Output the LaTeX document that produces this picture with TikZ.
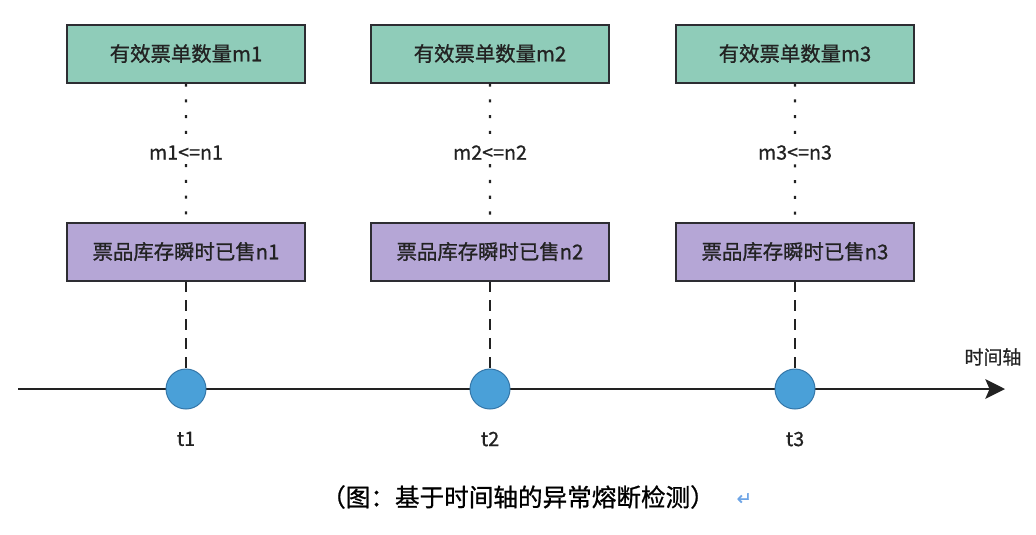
\documentclass[tikz,border=0pt]{standalone}
\usepackage{fontspec}
\setmainfont{Noto Sans CJK SC}[FakeBold=0.9]
\newfontfamily\symfont{DejaVu Sans}[FakeBold=1.5]
\usetikzlibrary{positioning,arrows.meta,calc}
\definecolor{valid}{RGB}{143,204,185}
\definecolor{sold}{RGB}{181,166,214}
\definecolor{tickblue}{RGB}{74,160,216}
\definecolor{tickline}{RGB}{52,118,168}
\definecolor{boxline}{RGB}{45,45,50}
\definecolor{txt}{RGB}{34,34,34}
\definecolor{retmark}{RGB}{110,165,230}

\begin{document}
\begin{tikzpicture}[
    valbox/.style={rectangle, draw=boxline, line width=1.4pt, fill=valid, minimum width=5.95cm, minimum height=1.45cm, align=center, font=\fontsize{14.5}{17}\selectfont, text=txt},
    soldbox/.style={valbox, fill=sold},
    tpoint/.style={circle, draw=tickline, fill=tickblue, line width=0.7pt, minimum size=1cm, inner sep=0pt},
    cmp/.style={font=\fontsize{14}{17}\selectfont, text=txt, inner sep=3pt},
    tlabel/.style={font=\fontsize{14}{17}\selectfont, text=txt, inner sep=0pt},
    dotline/.style={draw=txt, line width=1.5pt, dash pattern=on 2.2pt off 9pt},
    guide/.style={draw=txt, line width=1.4pt, dash pattern=on 7.8pt off 5.7pt},
    axis/.style={draw=txt, line width=1.4pt, -{Stealth[length=14pt,width=14pt,inset=3pt]}},
]
\useasboundingbox (0,0) rectangle (25.9,-13.35);

% time axis
\coordinate (axstart) at (0.45,-9.725);
\coordinate (axend) at (25.125,-9.725);
\draw[axis] (axstart) -- (axend);
\node[font=\fontsize{13.5}{16}\selectfont, text=txt] (axlabel) at (24.825,-8.925) {时间轴};

% time points
\node[tpoint] (p1) at (4.65,-9.725) {};
\node[tpoint] (p2) at (12.25,-9.725) {};
\node[tpoint] (p3) at (19.875,-9.725) {};
\node[tlabel, below=0.55cm of p1] (t1) {t1};
\node[tlabel, below=0.55cm of p2] (t2) {t2};
\node[tlabel, below=0.55cm of p3] (t3) {t3};

% sold counts
\node[soldbox, above=2.175cm of p1] (n1) {票品库存瞬时已售n1};
\node[soldbox, above=2.175cm of p2] (n2) {票品库存瞬时已售n2};
\node[soldbox, above=2.175cm of p3] (n3) {票品库存瞬时已售n3};

% valid orders
\node[valbox, above=3.45cm of n1] (m1) {有效票单数量m1};
\node[valbox, above=3.45cm of n2] (m2) {有效票单数量m2};
\node[valbox, above=3.45cm of n3] (m3) {有效票单数量m3};

% checks
\node[cmp] (c1) at ($(m1.south)!0.5!(n1.north)$) {m1<=n1};
\node[cmp] (c2) at ($(m2.south)!0.5!(n2.north)$) {m2<=n2};
\node[cmp] (c3) at ($(m3.south)!0.5!(n3.north)$) {m3<=n3};

% connectors
\draw[dotline] (m1) -- (c1);
\draw[dotline] (c1) -- (n1);
\draw[dotline] (m2) -- (c2);
\draw[dotline] (c2) -- (n2);
\draw[dotline] (m3) -- (c3);
\draw[dotline] (c3) -- (n3);
\draw[guide] (n1) -- (p1);
\draw[guide] (n2) -- (p2);
\draw[guide] (n3) -- (p3);

% caption
\node[font=\fontsize{17.5}{20}\selectfont, text=black] (caption) at (12.95,-12.425) {（图：基于时间轴的异常熔断检测）};
\node[right=0.3cm of caption, text=retmark, font=\symfont\fontsize{13}{14}\selectfont, yshift=-0.05cm] (ret) {↵};

\end{tikzpicture}
\end{document}
